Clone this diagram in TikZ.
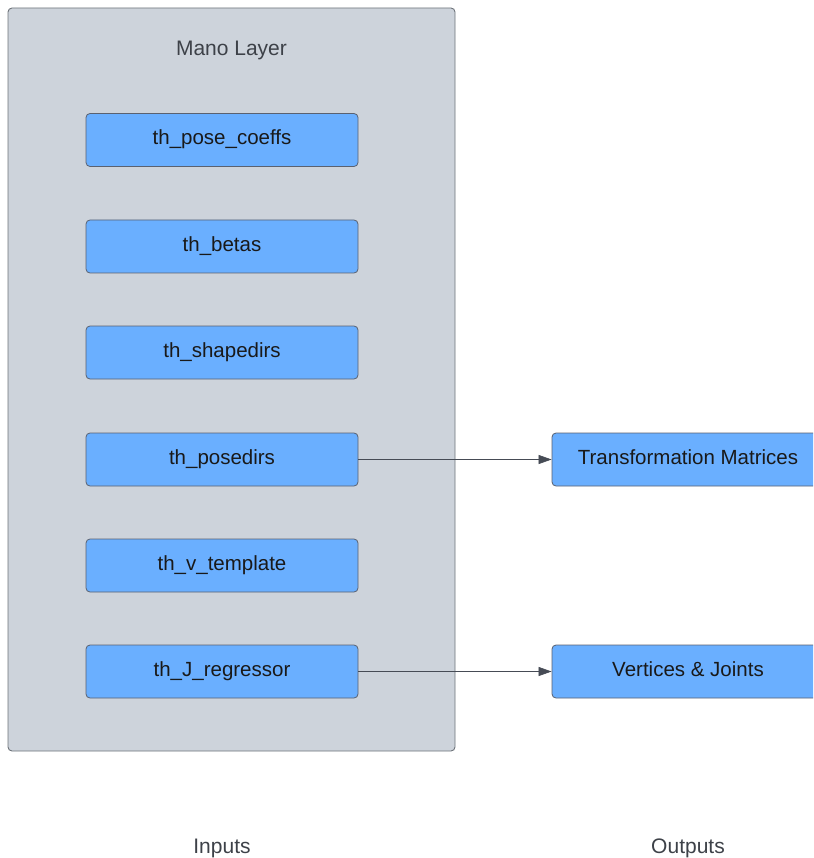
\documentclass[tikz,border=0pt]{standalone}
\usepackage{fontspec}
\setmainfont{Liberation Sans}
\usetikzlibrary{arrows.meta}

\definecolor{layerfill}{HTML}{CDD3DB}
\definecolor{layerline}{HTML}{6E737A}
\definecolor{boxfill}{HTML}{6AAFFF}
\definecolor{boxline}{HTML}{5A6170}
\definecolor{labelgray}{HTML}{3D4148}
\definecolor{arrowgray}{HTML}{464B55}

\tikzset{
  layer/.style={draw=layerline, fill=layerfill, line width=0.9pt, rounded corners=4pt},
  tensor/.style={draw=boxline, fill=boxfill, line width=0.8pt, rounded corners=4pt,
    minimum width=272pt, minimum height=53pt, inner sep=0pt,
    text height=14pt, text depth=4pt,
    font=\fontsize{20.5}{23}\selectfont, text=black!90},
  caption/.style={font=\fontsize{21}{24}\selectfont, text=labelgray, anchor=base, inner sep=0pt},
  flow/.style={draw=arrowgray, line width=0.7pt, -{Triangle[length=13pt, width=9pt]}}
}

\begin{document}
\begin{tikzpicture}[x=1pt, y=-1pt]
  \useasboundingbox (0,0) rectangle (813,858);
  \clip (0,0) rectangle (813,858);

  % the layer container
  \node[layer, minimum width=447pt, minimum height=743pt, inner sep=0pt] (mano) at (231.5,379.5) {};
  \node[caption] (title) at (231.5,56) {Mano Layer};

  % buffers held by the layer
  \node[tensor] (pose)   at (222,140)   {th\_pose\_coeffs};
  \node[tensor] (betas)  at (222,246.5) {th\_betas};
  \node[tensor] (shape)  at (222,352.5) {th\_shapedirs};
  \node[tensor] (posed)  at (222,459.5) {th\_posedirs};
  \node[tensor] (vtemp)  at (222,565.5) {th\_v\_template};
  \node[tensor] (jreg)   at (222,671.5) {th\_J\_regressor};

  % results
  \node[tensor] (trans)  at (688,459.5) {Transformation Matrices};
  \node[tensor] (verts)  at (688,671.5) {Vertices \& Joints};

  \draw[flow] (posed.east) -- (trans.west);
  \draw[flow] (jreg.east) -- (verts.west);

  % column captions
  \node[caption] (inputs)  at (222,853) {Inputs};
  \node[caption] (outputs) at (688,853) {Outputs};
\end{tikzpicture}
\end{document}
